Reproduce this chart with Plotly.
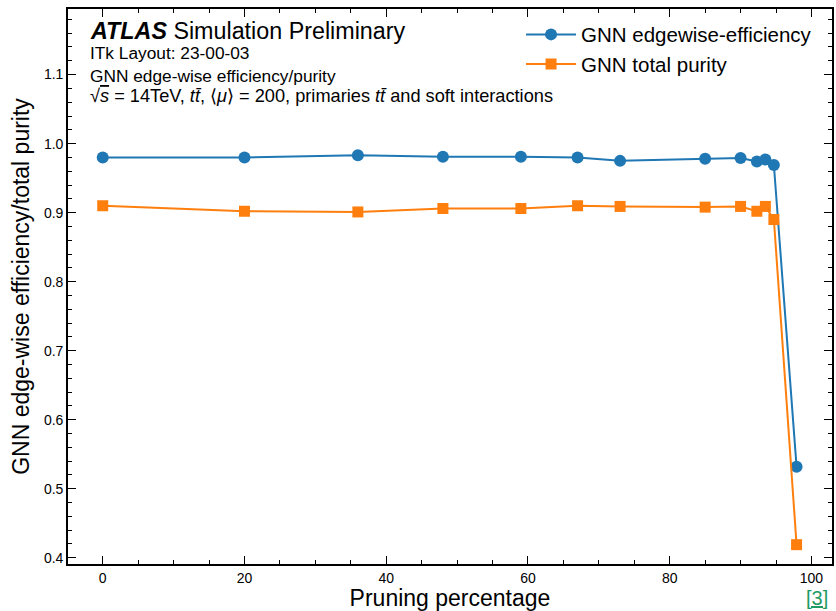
import plotly.graph_objects as go

pruning = [0, 20, 36, 48, 59, 67, 73, 85, 90, 92.3, 93.5, 94.7, 97.9]
efficiency = [0.980, 0.980, 0.983, 0.981, 0.981, 0.980, 0.975, 0.978, 0.979, 0.974, 0.977, 0.969, 0.532]
purity = [0.910, 0.902, 0.901, 0.906, 0.906, 0.910, 0.909, 0.908, 0.909, 0.902, 0.909, 0.890, 0.419]

x_ticks = [0, 20, 40, 60, 80, 100]
y_ticks = [0.4, 0.5, 0.6, 0.7, 0.8, 0.9, 1.0, 1.1]
y_tick_labels = ["0.4", "0.5", "0.6", "0.7", "0.8", "0.9", "1.0", "1.1"]

FONT = "Liberation Sans, Arial, Helvetica, sans-serif"
BLUE = "#1f77b4"
ORANGE = "#ff7f0e"
XR = [-4.9, 102.9]
YR = [0.391, 1.195]

fig = go.Figure()
fig.add_trace(go.Scatter(x=pruning, y=efficiency, mode="lines+markers",
                         name="GNN edgewise-efficiency",
                         line=dict(color=BLUE, width=2),
                         marker=dict(symbol="circle", size=12, color=BLUE)))
fig.add_trace(go.Scatter(x=pruning, y=purity, mode="lines+markers",
                         name="GNN total purity",
                         line=dict(color=ORANGE, width=2),
                         marker=dict(symbol="square", size=11, color=ORANGE)))

axis_common = dict(showline=True, linecolor="black", linewidth=1.6,
                   ticks="inside", tickcolor="black", tickwidth=1.3, ticklen=8,
                   showgrid=False, zeroline=False, automargin=False,
                   tickfont=dict(family=FONT, size=14, color="black"))
xminor = dict(tickmode="linear", dtick=5, tick0=0, ticks="inside", ticklen=4,
              tickcolor="black", tickwidth=1.1, showgrid=False)
yminor = dict(tickmode="linear", dtick=0.02, tick0=0.4, ticks="inside", ticklen=4,
              tickcolor="black", tickwidth=1.1, showgrid=False)

fig.update_layout(
    xaxis=dict(range=XR, tickmode="array", tickvals=x_ticks,
               ticktext=[str(v) for v in x_ticks], minor=xminor,
               title=dict(text="Pruning percentage",
                          font=dict(family=FONT, size=23, color="black"),
                          standoff=4),
               **axis_common),
    yaxis=dict(range=YR, tickmode="array", tickvals=y_ticks, ticktext=y_tick_labels,
               minor=yminor,
               title=dict(text="GNN edge-wise efficiency/total purity",
                          font=dict(family=FONT, size=23, color="black"),
                          standoff=8),
               **axis_common),
    xaxis2=dict(range=XR, overlaying="x", side="top", tickmode="array", tickvals=x_ticks,
                showticklabels=False, minor=xminor, **axis_common),
    yaxis2=dict(range=YR, overlaying="y", side="right", tickmode="array", tickvals=y_ticks,
                showticklabels=False, minor=yminor, **axis_common),
)
# invisible helper trace so the mirrored axes are drawn
fig.add_trace(go.Scatter(x=[pruning[0]], y=[efficiency[0]], xaxis="x2", yaxis="y2",
                         mode="markers", marker=dict(opacity=0), showlegend=False,
                         hoverinfo="skip"))

ann = [
    dict(text="<b><i>ATLAS</i></b> Simulation Preliminary", y=0.960, size=23.3),
    dict(text="ITk Layout: 23-00-03", y=0.921, size=17.3),
    dict(text="GNN edge-wise efficiency/purity", y=0.880, size=17.3),
    dict(text="√<span style='text-decoration:overline'><i>s</i></span> = 14TeV, <i>t</i><i>t̄</i>, ⟨<i>μ</i>⟩ = 200, primaries <i>t</i><i>t̄</i> and soft interactions",
         y=0.843, size=18.2),
]
for a in ann:
    fig.add_annotation(text=a["text"], xref="paper", yref="paper", x=0.026, y=a["y"],
                       xanchor="left", yanchor="middle", showarrow=False,
                       font=dict(family=FONT, size=a["size"], color="black"))

fig.add_annotation(text="<u>[3]</u>", xref="paper", yref="paper", x=0.963, y=-0.062,
                   xanchor="left", yanchor="middle", showarrow=False,
                   font=dict(family=FONT, size=20, color="#1e9a62"))

fig.update_layout(
    width=836, height=611,
    margin=dict(l=68, r=4, t=9, b=47),
    paper_bgcolor="white", plot_bgcolor="white",
    showlegend=True,
    legend=dict(x=0.593, y=0.990, xanchor="left", yanchor="top",
                bgcolor="rgba(0,0,0,0)", font=dict(family=FONT, size=20.5, color="black"),
                itemwidth=50, tracegroupgap=4),
)

fig.write_html("out.html", config={"displayModeBar": False},
               post_script="document.body.style.margin='0';document.body.style.overflow='hidden';")
